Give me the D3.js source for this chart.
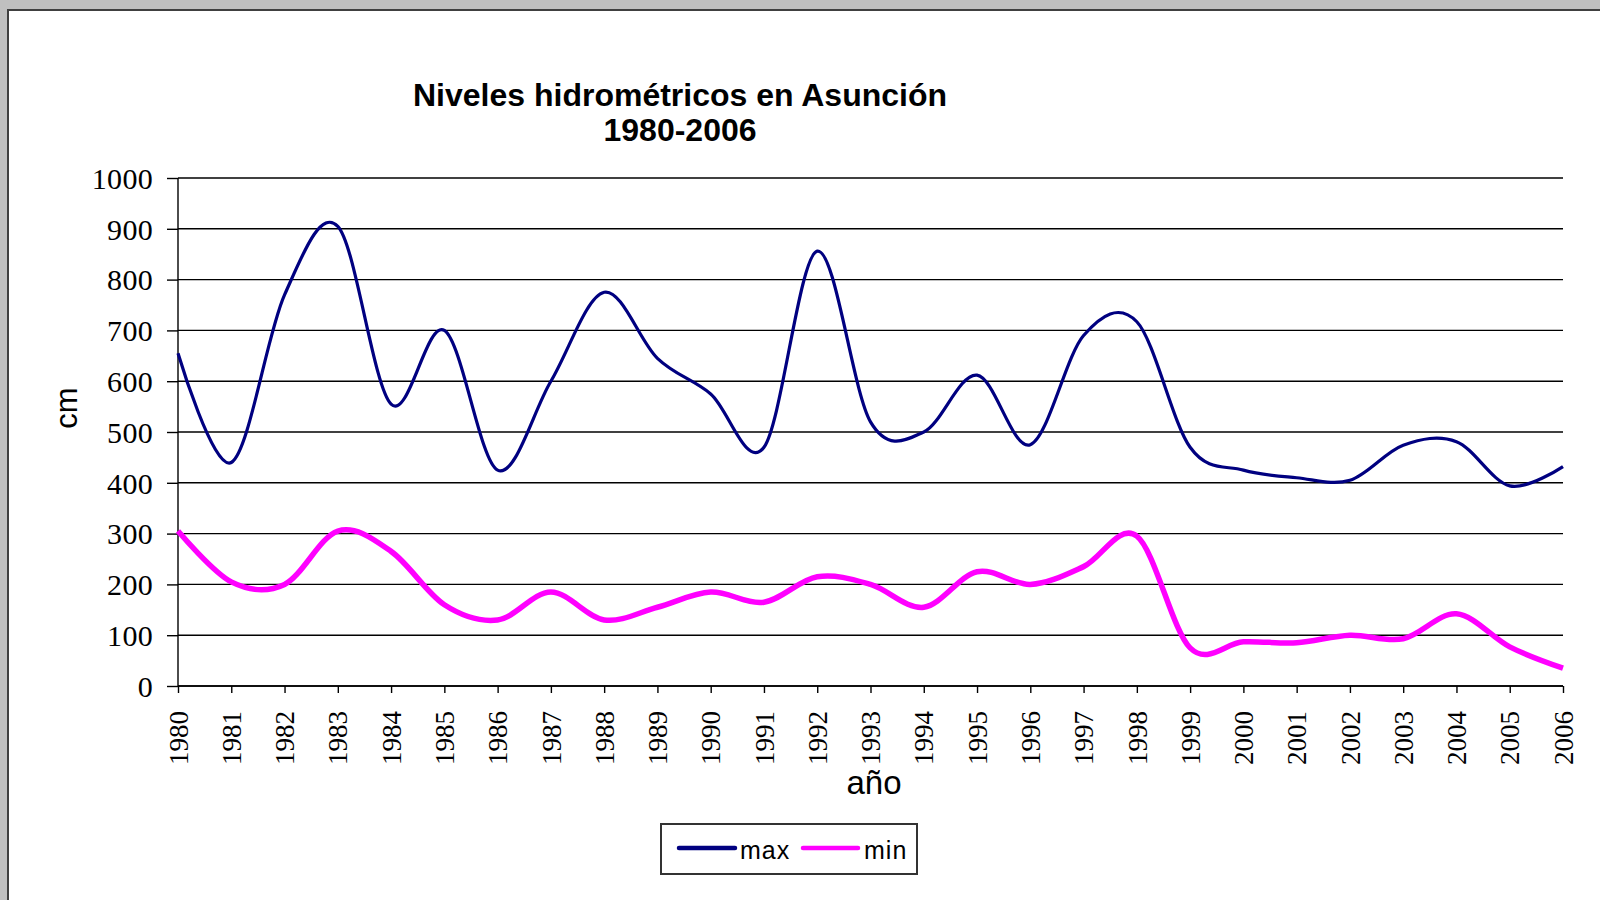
<!DOCTYPE html>
<html>
<head>
<meta charset="utf-8">
<script src="https://cdn.jsdelivr.net/npm/d3@7"></script>
<style>
  html, body { margin: 0; padding: 0; background: #c0c0c0; overflow: hidden; }
  svg { display: block; }
</style>
</head>
<body>
<svg id="chart" width="1600" height="900"></svg>
<script>
// ---- data ----
const years = [1980,1981,1982,1983,1984,1985,1986,1987,1988,1989,1990,1991,1992,1993,1994,1995,1996,1997,1998,1999,2000,2001,2002,2003,2004,2005,2006];
const maxValues = [655,440,770,905,555,700,425,600,775,645,575,470,856,520,500,612,475,690,717,470,425,410,405,474,481,394,432];
const minValues = [305,205,200,305,265,160,130,185,130,155,185,165,215,200,155,225,200,235,295,75,87,85,100,93,142,77,35];
const yTicks = [0,100,200,300,400,500,600,700,800,900,1000];
const seriesNames = ["max","min"];
const seriesColors = ["#000080","#ff00ff"];
const titleLines = ["Niveles hidrométricos  en Asunción","1980-2006"];

// ---- layout ----
const svg = d3.select("#chart");
const plot = {left: 178, right: 1563, top: 178, bottom: 686};

// page
svg.append("rect").attr("x", 8).attr("y", 10).attr("width", 1600).attr("height", 900)
  .attr("fill", "#ffffff").attr("stroke", "#404040").attr("stroke-width", 2);

const x = d3.scalePoint().domain(years).range([plot.left, plot.right]);
const y = d3.scaleLinear().domain([0, 1000]).range([plot.bottom, plot.top]);

// gridlines
svg.append("g").selectAll("line").data(yTicks).join("line")
  .attr("x1", plot.left).attr("x2", plot.right)
  .attr("y1", d => y(d)).attr("y2", d => y(d))
  .attr("stroke", "#000").attr("stroke-width", 1.4);

// y axis
const yAxis = d3.axisLeft(y).tickValues(yTicks).tickSize(11).tickPadding(14).tickFormat(d3.format("d"));
const gy = svg.append("g").attr("transform", `translate(${plot.left},0)`).call(yAxis);
gy.select(".domain").attr("stroke", "#000").attr("stroke-width", 1.4).attr("d", `M0,${plot.top}V${plot.bottom}`);
gy.selectAll(".tick line").attr("stroke", "#000").attr("stroke-width", 1.4);
gy.selectAll(".tick text").attr("font-family", "'Liberation Serif', 'Times New Roman', serif")
  .attr("font-size", 30).attr("letter-spacing", 0.3).attr("fill", "#000").attr("dy", "0.34em");

// x axis
const xAxis = d3.axisBottom(x).tickSize(7).tickPadding(0).tickFormat(d3.format("d"));
const gx = svg.append("g").attr("transform", `translate(0,${plot.bottom})`).call(xAxis);
gx.select(".domain").attr("stroke", "#000").attr("stroke-width", 1.4).attr("d", `M${plot.left},0H${plot.right}`);
gx.selectAll(".tick line").attr("stroke", "#000").attr("stroke-width", 1.4);
gx.selectAll(".tick text")
  .attr("font-family", "'Liberation Serif', 'Times New Roman', serif")
  .attr("font-size", 27).attr("fill", "#000")
  .attr("text-anchor", "end")
  .attr("transform", "translate(0,25) rotate(-90)")
  .attr("x", 0).attr("y", 0).attr("dy", "0.34em");

// lines
const line = d3.line().x((d, i) => x(years[i])).y(d => y(d)).curve(d3.curveCatmullRom.alpha(0));
svg.append("path").datum(minValues).attr("d", line)
  .attr("fill", "none").attr("stroke", seriesColors[1]).attr("stroke-width", 5.5);
svg.append("path").datum(maxValues).attr("d", line)
  .attr("fill", "none").attr("stroke", seriesColors[0]).attr("stroke-width", 3.2);

// title
svg.append("g").selectAll("text").data(titleLines).join("text")
  .attr("x", 680).attr("y", (d, i) => 106 + i * 35)
  .attr("text-anchor", "middle")
  .attr("font-family", "'Liberation Sans', Arial, sans-serif")
  .attr("font-weight", "bold").attr("font-size", 32).attr("fill", "#000")
  .text(d => d);

// axis titles
svg.append("text").attr("transform", "translate(77,408) rotate(-90)")
  .attr("text-anchor", "middle")
  .attr("font-family", "'Liberation Sans', Arial, sans-serif")
  .attr("font-size", 31).attr("fill", "#000").text("cm");
svg.append("text").attr("x", 874).attr("y", 794)
  .attr("text-anchor", "middle")
  .attr("font-family", "'Liberation Sans', Arial, sans-serif")
  .attr("font-size", 33).attr("fill", "#000").text("año");

// legend
const lg = svg.append("g");
lg.append("rect").attr("x", 661).attr("y", 824).attr("width", 256).attr("height", 50)
  .attr("fill", "#fff").attr("stroke", "#333").attr("stroke-width", 2);
const legendItems = [{x1: 679, x2: 735, tx: 740}, {x1: 803, x2: 858, tx: 864}];
legendItems.forEach((it, i) => {
  lg.append("line").attr("x1", it.x1).attr("x2", it.x2).attr("y1", 848).attr("y2", 848)
    .attr("stroke", seriesColors[i]).attr("stroke-width", 4.5).attr("stroke-linecap", "round");
  lg.append("text").attr("x", it.tx).attr("y", 859)
    .attr("font-family", "'Liberation Sans', Arial, sans-serif")
    .attr("font-size", 25).attr("letter-spacing", 1).attr("fill", "#000")
    .text(seriesNames[i]);
});
</script>
</body>
</html>
